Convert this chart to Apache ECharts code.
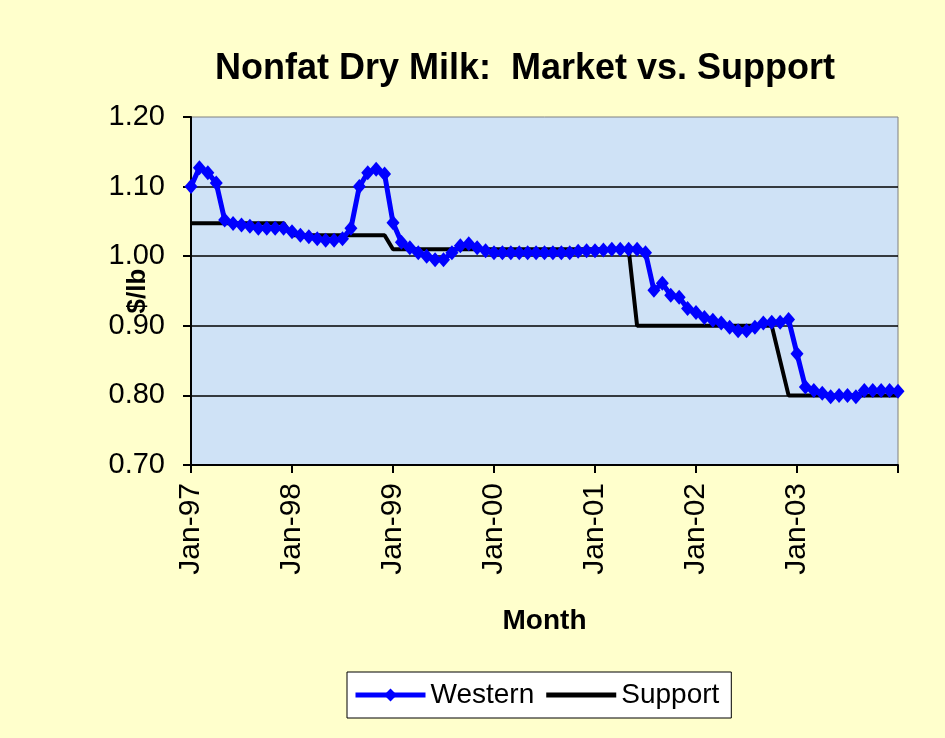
<!DOCTYPE html>
<html lang="en">
<head>
    <meta charset="UTF-8">
    <title>Nonfat Dry Milk</title>
    <script src="https://cdn.jsdelivr.net/npm/echarts@6/dist/echarts.min.js"></script>
</head>
<body style="margin:0">
<div id="main" style="width:945px;height:738px"></div>
<script>
    // monthly, Jan-97 .. Jan-04
    const years = ['97', '98', '99', '00', '01', '02', '03', '04'];
    const monthNames = ['Jan', 'Feb', 'Mar', 'Apr', 'May', 'Jun', 'Jul', 'Aug', 'Sep', 'Oct', 'Nov', 'Dec'];
    const yTicks = [0.70, 0.80, 0.90, 1.00, 1.10, 1.20];

    const western = [
        1.100, 1.127, 1.120, 1.105, 1.052, 1.047, 1.045, 1.043, 1.040, 1.040, 1.040, 1.040,
        1.035, 1.030, 1.028, 1.025, 1.023, 1.023, 1.025, 1.040, 1.100, 1.120, 1.125, 1.118,
        1.048, 1.020, 1.012, 1.005, 1.000, 0.995, 0.995, 1.005, 1.015, 1.018, 1.012, 1.008,
        1.005, 1.005, 1.005, 1.005, 1.005, 1.005, 1.005, 1.005, 1.005, 1.005, 1.007, 1.008,
        1.008, 1.009, 1.010, 1.010, 1.010, 1.010, 1.005, 0.951, 0.961, 0.944, 0.941, 0.925,
        0.919, 0.912, 0.908, 0.904, 0.898, 0.893, 0.893, 0.898, 0.904, 0.905, 0.905, 0.909,
        0.860, 0.812, 0.807, 0.803, 0.798, 0.800, 0.800, 0.798, 0.807, 0.807, 0.807, 0.807,
        0.806
    ];

    const support = [
        1.0475, 1.0475, 1.0475, 1.0475, 1.0475, 1.0475, 1.0475, 1.0475, 1.0475, 1.0475, 1.0475, 1.0475,
        1.03, 1.03, 1.03, 1.03, 1.03, 1.03, 1.03, 1.03, 1.03, 1.03, 1.03, 1.03,
        1.01, 1.01, 1.01, 1.01, 1.01, 1.01, 1.01, 1.01, 1.01, 1.01, 1.01, 1.01,
        1.01, 1.01, 1.01, 1.01, 1.01, 1.01, 1.01, 1.01, 1.01, 1.01, 1.01, 1.01,
        1.01, 1.01, 1.01, 1.01, 1.01, 0.90, 0.90, 0.90, 0.90, 0.90, 0.90, 0.90,
        0.90, 0.90, 0.90, 0.90, 0.90, 0.90, 0.90, 0.90, 0.90, 0.90, 0.85, 0.80,
        0.80, 0.80, 0.80, 0.80, 0.80, 0.80, 0.80, 0.80, 0.80, 0.80, 0.80, 0.80,
        0.80
    ];

    const months = [];
    for (let y = 0; y < years.length; y++) {
        for (let m = 0; m < 12; m++) {
            if (months.length < western.length) months.push(monthNames[m] + '-' + years[y]);
        }
    }

    const font = 'Liberation Sans, Arial, sans-serif';
    const chart = echarts.init(document.getElementById('main'));

    const option = {
        backgroundColor: '#FFFFCC',
        textStyle: {fontFamily: font, color: '#000'},
        title: {
            text: 'Nonfat Dry Milk:  Market vs. Support',
            left: 520,
            textAlign: 'center',
            top: 46,
            textStyle: {fontFamily: font, fontSize: 36, fontWeight: 'bold', color: '#000'}
        },
        grid: {
            left: 191, right: 47, top: 117, bottom: 273,
            show: true,
            backgroundColor: '#CFE2F6',
            borderColor: '#808080',
            borderWidth: 1
        },
        legend: {
            left: 347,
            bottom: 20,
            backgroundColor: '#FFFFFF',
            borderColor: '#000',
            borderWidth: 1,
            borderRadius: 0,
            padding: [9, 12, 9, 6],
            itemGap: 12,
            itemWidth: 70,
            itemHeight: 16,
            symbolKeepAspect: true,
            lineStyle: {width: 5},
            textStyle: {fontFamily: font, fontSize: 28, color: '#000'},
            data: [
                {name: 'Western'},
                {name: 'Support', icon: 'path://M0,0 L70,0 L70,5 L0,5 Z'}
            ]
        },
        xAxis: {
            type: 'category',
            data: months,
            boundaryGap: false,
            name: 'Month',
            nameLocation: 'middle',
            nameGap: 142,
            nameMoveOverlap: false,
            nameTextStyle: {fontFamily: font, fontSize: 28, fontWeight: 'bold', color: '#000'},
            axisLine: {lineStyle: {color: '#000', width: 2}},
            axisTick: {
                length: 8,
                lineStyle: {color: '#000', width: 2},
                interval: function (i) { return i % 12 === 0; }
            },
            axisLabel: {
                rotate: 90,
                margin: 18,
                fontSize: 30,
                color: '#000',
                interval: function (i) { return i % 12 === 0 && i < 84; }
            },
            splitLine: {show: false}
        },
        yAxis: {
            type: 'value',
            min: yTicks[0],
            max: yTicks[yTicks.length - 1],
            interval: 0.1,
            name: '$/lb',
            nameLocation: 'middle',
            nameGap: 40,
            nameRotate: 90,
            nameMoveOverlap: false,
            nameTextStyle: {fontFamily: font, fontSize: 26, fontWeight: 'bold', color: '#000'},
            axisLine: {show: true, lineStyle: {color: '#000', width: 2}},
            axisTick: {show: true, length: 8, lineStyle: {color: '#000', width: 2}},
            axisLabel: {
                margin: 26,
                fontSize: 29,
                color: '#000',
                formatter: function (v) { return v.toFixed(2); }
            },
            splitLine: {show: true, showMaxLine: false, lineStyle: {color: '#000', width: 1.5}}
        },
        series: [
            {
                name: 'Western',
                type: 'line',
                data: western,
                symbol: 'diamond',
                symbolSize: [13, 15],
                showAllSymbol: true,
                z: 3,
                itemStyle: {color: '#0000FF'},
                lineStyle: {color: '#0000FF', width: 5}
            },
            {
                name: 'Support',
                type: 'line',
                data: support,
                symbol: 'none',
                z: 2,
                itemStyle: {color: '#000'},
                lineStyle: {color: '#000', width: 4}
            }
        ]
    };

    chart.setOption(option);
</script>
</body>
</html>
